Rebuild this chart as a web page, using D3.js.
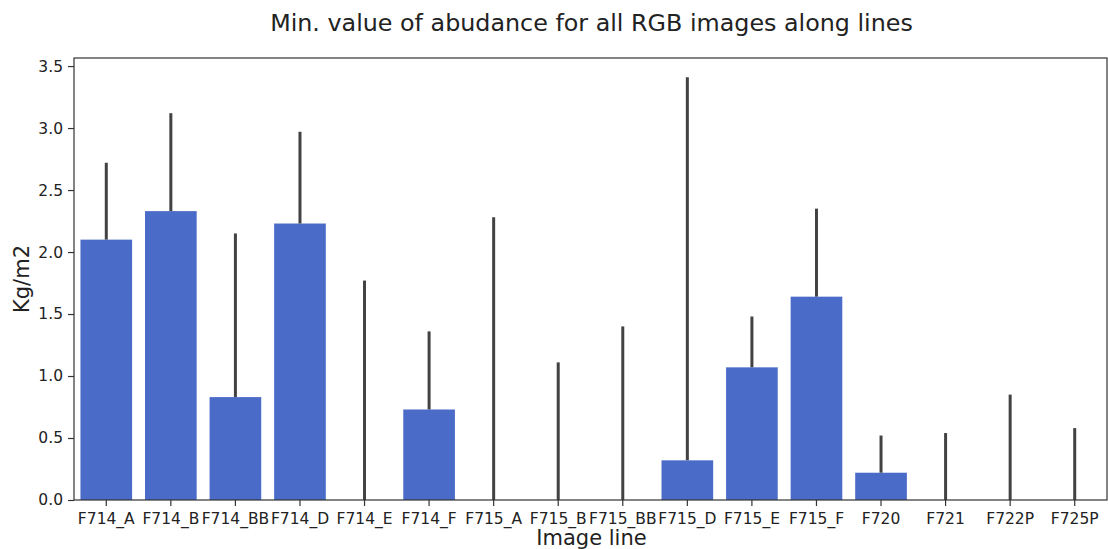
<!DOCTYPE html>
<html><head><meta charset="utf-8">
<script src="https://cdn.jsdelivr.net/npm/d3@7"></script>
<style>body{margin:0;background:#fff}svg{display:block}text{font-family:"DejaVu Sans",sans-serif}</style>
</head><body><svg id="c" width="1108" height="549"></svg>
<script>
const categories = ["F714_A","F714_B","F714_BB","F714_D","F714_E","F714_F","F715_A","F715_B","F715_BB","F715_D","F715_E","F715_F","F720","F721","F722P","F725P"];
const values = [2.10,2.33,0.83,2.23,0,0.73,0,0,0,0.32,1.07,1.64,0.22,0,0,0];
const ciLow = [2.10,2.33,0.83,2.23,0,0.73,0,0,0,0.32,1.07,1.64,0.22,0,0,0];
const ciHigh = [2.72,3.12,2.15,2.97,1.77,1.36,2.28,1.11,1.40,3.41,1.48,2.35,0.52,0.54,0.85,0.58];
const yTicks = [0,0.5,1.0,1.5,2.0,2.5,3.0,3.5];

const svg = d3.select("#c");
const L=74, R=1107, T=58, B=500;
const x = d3.scaleBand().domain(categories).range([L,R]).paddingInner(0.2).paddingOuter(0.1);
const y = d3.scaleLinear().domain([0,3.565]).range([B,T]);

svg.selectAll("rect.bar").data(values).enter().append("rect")
  .attr("x",(d,i)=>x(categories[i])).attr("width",x.bandwidth())
  .attr("y",d=>y(d)).attr("height",d=>B-y(d))
  .attr("fill","#4a6bc8");

svg.selectAll("line.err").data(ciHigh).enter().append("line")
  .attr("x1",(d,i)=>x(categories[i])+x.bandwidth()/2).attr("x2",(d,i)=>x(categories[i])+x.bandwidth()/2)
  .attr("y1",(d,i)=>y(ciLow[i])).attr("y2",d=>y(d))
  .attr("stroke","#424242").attr("stroke-width",3);

// frame
svg.append("rect").attr("x",L).attr("y",T).attr("width",R-L).attr("height",B-T)
  .attr("fill","none").attr("stroke","#333").attr("stroke-width",1.2);

const ya = svg.append("g").attr("transform",`translate(${L},0)`)
  .call(d3.axisLeft(y).tickValues(yTicks).tickFormat(d3.format(".1f")).tickSize(6).tickPadding(5));
ya.select(".domain").remove();
ya.selectAll("line").attr("stroke","#333").attr("stroke-width",1.2);
ya.selectAll("text").attr("font-size",15.5).attr("fill","#222").attr("font-family","DejaVu Sans");

const xa = svg.append("g").attr("transform",`translate(0,${B})`)
  .call(d3.axisBottom(x).tickSize(6).tickPadding(7));
xa.select(".domain").remove();
xa.selectAll("line").attr("stroke","#333").attr("stroke-width",1.2);
xa.selectAll("text").attr("font-size",15.5).attr("fill","#222").attr("font-family","DejaVu Sans");

svg.append("text").attr("x",(L+R)/2+1).attr("y",31).attr("text-anchor","middle")
  .attr("font-size",23.8).attr("fill","#222").text("Min. value of abudance for all RGB images along lines");
svg.append("text").attr("x",(L+R)/2+1).attr("y",545).attr("text-anchor","middle")
  .attr("font-size",21).attr("fill","#222").text("Image line");
svg.append("text").attr("transform",`translate(29,${(T+B)/2}) rotate(-90)`).attr("text-anchor","middle")
  .attr("font-size",21).attr("fill","#222").text("Kg/m2");
</script></body></html>
